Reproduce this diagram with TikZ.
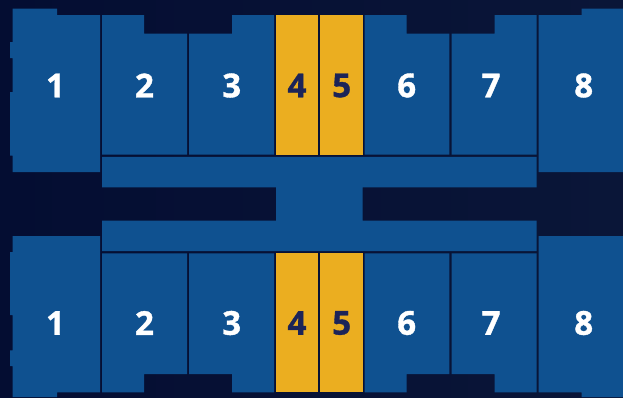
\documentclass[tikz,border=0pt]{standalone}
\usepackage{fontspec}
\setmainfont{Open Sans}
\newfontfamily\numfont{Open Sans}[BoldFeatures={FakeBold=1.1}]
\definecolor{bgleft}{HTML}{040D32}
\definecolor{bgright}{HTML}{0A1638}
\definecolor{unitblue}{HTML}{0F5190}
\definecolor{gold}{HTML}{EBAE20}
\definecolor{ink}{HTML}{1C2458}
\tikzset{
  unit/.style={fill=unitblue},
  gunit/.style={fill=gold},
  wnum/.style={font=\numfont\fontsize{33}{33}\selectfont\bfseries, text=white, inner sep=0pt},
  dnum/.style={font=\numfont\fontsize{33}{33}\selectfont\bfseries, text=ink, inner sep=0pt},
}
\begin{document}
\begin{tikzpicture}[x=1pt, y=-1pt]
  \useasboundingbox (0,0) rectangle (623,397);
  \fill[left color=bgleft, right color=bgright] (0,0) rectangle (623,397);
  % upper row
  \fill[unit] (12.5,8.5) -- (57,8.5) -- (57,15) -- (100,15) -- (100,172) -- (12.5,172) -- (12.5,155.5)
    -- (10,155.5) -- (10,92) -- (12.5,92) -- (12.5,58) -- (10,58) -- (10,42) -- (12.5,42) -- cycle;
  \fill[unit] (102,15) -- (144,15) -- (144,33.7) -- (187,33.7) -- (187,154.7) -- (102,154.7) -- cycle;
  \fill[unit] (189,33.7) -- (232,33.7) -- (232,15) -- (274,15) -- (274,154.7) -- (189,154.7) -- cycle;
  \fill[gunit] (276,15) rectangle (318.4,154.7);
  \fill[gunit] (320.4,15) rectangle (362.7,154.7);
  \fill[unit] (364.7,15) -- (406.7,15) -- (406.7,33.7) -- (449.4,33.7) -- (449.4,154.7) -- (364.7,154.7) -- cycle;
  \fill[unit] (451.6,33.7) -- (494.7,33.7) -- (494.7,15) -- (536.7,15) -- (536.7,154.7) -- (451.6,154.7) -- cycle;
  \fill[unit] (538.7,15) -- (581.7,15) -- (581.7,8.5) -- (623,8.5) -- (623,172) -- (538.7,172) -- cycle;
  % corridors
  \fill[unit] (102,156.8) -- (536.7,156.8) -- (536.7,187.3) -- (362.7,187.3) -- (362.7,220.7) -- (536.7,220.7)
    -- (536.7,251) -- (102,251) -- (102,220.7) -- (276,220.7) -- (276,187.3) -- (102,187.3) -- cycle;
  % lower row
  \fill[unit] (12.5,236) -- (100,236) -- (100,392.3) -- (57,392.3) -- (57,397) -- (12.5,397) -- (12.5,366)
    -- (10,366) -- (10,350.3) -- (12.5,350.3) -- (12.5,315) -- (10,315) -- (10,252) -- (12.5,252) -- cycle;
  \fill[unit] (102,253.3) -- (187,253.3) -- (187,374) -- (144,374) -- (144,392.3) -- (102,392.3) -- cycle;
  \fill[unit] (189,253.3) -- (274,253.3) -- (274,392.3) -- (232,392.3) -- (232,374) -- (189,374) -- cycle;
  \fill[gunit] (276,253.3) rectangle (318.4,392.3);
  \fill[gunit] (320.4,253.3) rectangle (362.7,392.3);
  \fill[unit] (364.7,253.3) -- (449.4,253.3) -- (449.4,374) -- (406.7,374) -- (406.7,392.3) -- (364.7,392.3) -- cycle;
  \fill[unit] (451.6,253.3) -- (536.7,253.3) -- (536.7,392.3) -- (494.7,392.3) -- (494.7,374) -- (451.6,374) -- cycle;
  \fill[unit] (538.7,236) -- (623,236) -- (623,397) -- (581.7,397) -- (581.7,392.3) -- (538.7,392.3) -- cycle;
  % numbers
  \node[wnum] (a1) at (55.5,85.5) {1};
  \node[wnum] (a2) at (144.5,85.5) {2};
  \node[wnum] (a3) at (231.7,85.5) {3};
  \node[dnum] (a4) at (297,85.5) {4};
  \node[dnum] (a5) at (341.7,85.5) {5};
  \node[wnum] (a6) at (406.7,85.5) {6};
  \node[wnum] (a7) at (491,85.5) {7};
  \node[wnum] (a8) at (583.7,85.5) {8};
  \node[wnum] (b1) at (55.5,323) {1};
  \node[wnum] (b2) at (144.5,323) {2};
  \node[wnum] (b3) at (231.7,323) {3};
  \node[dnum] (b4) at (297,323) {4};
  \node[dnum] (b5) at (341.7,323) {5};
  \node[wnum] (b6) at (406.7,323) {6};
  \node[wnum] (b7) at (491,323) {7};
  \node[wnum] (b8) at (583.7,323) {8};
\end{tikzpicture}
\end{document}
